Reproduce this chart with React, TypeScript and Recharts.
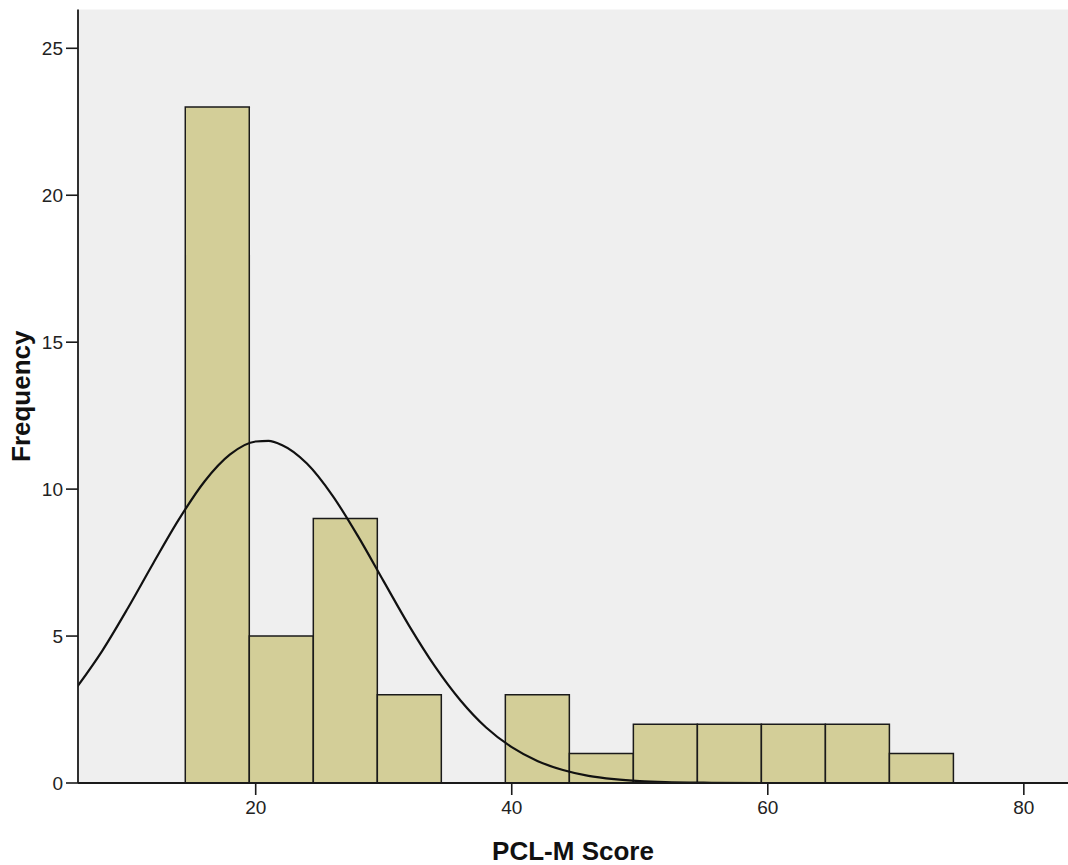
import React from 'react';
import { ComposedChart, Bar, Line, XAxis, YAxis, CartesianGrid } from 'recharts';

// Histogram bins (bin width 5, centres) and counts
const binCenters = [17, 22, 27, 32, 37, 42, 47, 52, 57, 62, 67, 72];
const frequencies = [23, 5, 9, 3, 0, 3, 1, 2, 2, 2, 2, 1];

// Normal curve
const curveX = [6, 8, 10, 12, 14, 16, 18, 20, 21, 22, 24, 26, 28, 30, 32, 34, 36, 38, 40, 42, 44, 46, 48, 50, 52, 55, 60, 70, 84];
const curveY = [3.24, 4.49, 5.94, 7.48, 8.97, 10.26, 11.18, 11.62, 11.64, 11.51, 10.87, 9.78, 8.39, 6.86, 5.34, 3.97, 2.81, 1.89, 1.22, 0.75, 0.44, 0.24, 0.13, 0.065, 0.03, 0.01, 0, 0, 0];

const xTicks = [20, 40, 60, 80];
const yTicks = [0, 5, 10, 15, 20, 25];
const xDomain: [number, number] = [6.12, 83.45];
const yDomain: [number, number] = [0, 26.32];

const binData = binCenters.map((x, i) => ({ x, freq: frequencies[i] }));
const curveData = curveX.map((x, i) => ({ x, density: curveY[i] }));

const FONT = '"Liberation Sans", Arial, sans-serif';
const tickStyle = { fontSize: 19, fill: '#222', fontFamily: FONT };
const axisLineStyle = { stroke: '#1a1a1a', strokeWidth: 1.8 };
const titleStyle = { fontSize: 26, fontWeight: 'bold' as const, fill: '#111', fontFamily: FONT };

export default function App() {
  return (
    <div style={{ position: 'absolute', left: 0, top: 0, width: 1068, height: 865, overflow: 'hidden', background: '#fff' }}>
      <style>{'html,body{margin:0;padding:0;overflow:hidden;}'}</style>
      <div style={{ position: 'absolute', left: 8, top: 8, width: 1060, height: 857 }}>
        <ComposedChart
          width={1060}
          height={857}
          data={binData}
          margin={{ top: 1.5, right: 0, bottom: 0, left: 0 }}
          barCategoryGap={0}
          barGap={0}
        >
          <CartesianGrid horizontal={false} vertical={false} fill="#efefef" fillOpacity={1} stroke="none" />
          <XAxis
            type="number"
            dataKey="x"
            domain={xDomain}
            allowDataOverflow
            ticks={xTicks}
            interval={0}
            height={82}
            tickSize={12}
            tickMargin={6}
            tick={tickStyle}
            tickLine={{ stroke: '#1a1a1a', strokeWidth: 1.6 }}
            axisLine={axisLineStyle}
            label={{ value: 'PCL-M Score', position: 'insideBottom', offset: 5, style: titleStyle }}
          />
          <XAxis
            xAxisId="curve"
            type="number"
            dataKey="x"
            domain={xDomain}
            allowDataOverflow
            hide
          />
          <XAxis
            xAxisId="top"
            orientation="top"
            type="number"
            dataKey="x"
            domain={xDomain}
            allowDataOverflow
            height={0}
            tick={false}
            tickLine={false}
            axisLine={axisLineStyle}
          />
          <YAxis
            type="number"
            domain={yDomain}
            allowDataOverflow
            ticks={yTicks}
            interval={0}
            width={70}
            tickSize={12}
            tickMargin={3}
            tick={tickStyle}
            tickLine={{ stroke: '#1a1a1a', strokeWidth: 1.6 }}
            axisLine={axisLineStyle}
            label={{
              value: 'Frequency',
              angle: -90,
              position: 'insideLeft',
              offset: 13,
              style: { ...titleStyle, textAnchor: 'middle' },
            }}
          />
          <Bar dataKey="freq" fill="#d3ce98" stroke="#1a1a1a" strokeWidth={1.5} isAnimationActive={false} />
          <Line
            xAxisId="curve"
            data={curveData}
            dataKey="density"
            type="monotone"
            stroke="#111"
            strokeWidth={2.2}
            dot={false}
            activeDot={false}
            isAnimationActive={false}
          />
        </ComposedChart>
      </div>
    </div>
  );
}
